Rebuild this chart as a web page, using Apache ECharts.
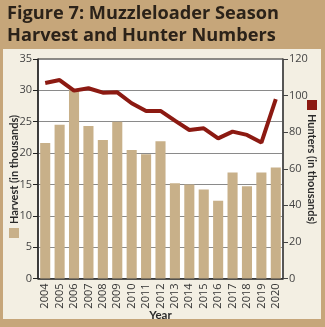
<!DOCTYPE html>
<html>
<head>
<meta charset="utf-8">
<script src="https://cdn.jsdelivr.net/npm/echarts@6/dist/echarts.min.js"></script>
<style>
  html, body { margin: 0; padding: 0; background: #c6a67a; }
  #chart { width: 325px; height: 327px; }
</style>
</head>
<body>
<div id="chart"></div>
<script>
// Muzzleloader season: harvest and hunters, in thousands
const years = ['2004', '2005', '2006', '2007', '2008', '2009', '2010', '2011', '2012',
               '2013', '2014', '2015', '2016', '2017', '2018', '2019', '2020'];
const harvest = [21.6, 24.5, 30.0, 24.3, 22.1, 25.0, 20.5, 19.8, 21.9,
                 15.2, 15.0, 14.2, 12.4, 16.9, 14.7, 16.9, 17.7];
const hunters = [106.9, 108.5, 102.7, 104.0, 101.6, 101.8, 95.8, 91.6, 91.6,
                 86.3, 81.2, 82.1, 76.6, 80.3, 78.5, 74.3, 98.0];

const titleLines = ['Figure 7: Muzzleloader Season', 'Harvest and Hunter Numbers'];
const harvestName = 'Harvest (in thousands)';
const huntersName = 'Hunters (in thousands)';
const xName = 'Year';

const FONT = '"Open Sans", "Noto Sans", sans-serif';
const NARROW = 'Lato, "Open Sans", sans-serif';
const BAR = '#c8b089';
const RED = '#8c1a12';
const INK = '#2b2219';

const chart = echarts.init(document.getElementById('chart'), null, { renderer: 'canvas' });

chart.setOption({
  backgroundColor: '#c6a67a',
  animation: false,
  textStyle: { fontFamily: FONT },
  graphic: [
    { type: 'rect', z: -10, shape: { x: 3, y: 49, width: 318, height: 270 },
      style: { fill: '#f3efe3' } },
    { type: 'text', left: 7, top: 3,
      style: { text: titleLines.join('\n'), font: 'bold 18.2px ' + FONT, fill: INK, lineHeight: 22 } },
    // left legend swatch + axis title
    { type: 'rect', shape: { x: 9, y: 228, width: 10, height: 10 }, style: { fill: BAR } },
    { type: 'text', x: 14, y: 169.5, rotation: Math.PI / 2,
      style: { text: harvestName, font: 'bold 11px ' + NARROW, fill: '#2a2a2a',
               align: 'center', verticalAlign: 'middle' } },
    // right legend swatch + axis title
    { type: 'rect', shape: { x: 307, y: 100, width: 10, height: 10 }, style: { fill: RED } },
    { type: 'text', x: 312, y: 169, rotation: -Math.PI / 2,
      style: { text: huntersName, font: 'bold 11px ' + NARROW, fill: '#2a2a2a',
               align: 'center', verticalAlign: 'middle' } }
  ],
  grid: {
    left: 38, right: 42, top: 59, bottom: 48.5,
    outerBoundsMode: 'none',
    show: true, backgroundColor: '#ffffff', borderColor: '#222', borderWidth: 1
  },
  xAxis: {
    type: 'category',
    data: years,
    name: xName,
    nameLocation: 'middle',
    nameGap: 31,
    nameMoveOverlap: false,
    nameTextStyle: { fontWeight: 'bold', fontSize: 11.5, color: '#2a2a2a', fontFamily: NARROW },
    axisLine: { lineStyle: { color: '#222', width: 1.5 } },
    axisTick: { show: false },
    axisLabel: { rotate: 90, fontSize: 11, color: '#333', margin: 5 }
  },
  yAxis: [
    {
      type: 'value', min: 0, max: 35, interval: 5,
      axisLine: { show: true, lineStyle: { color: '#222', width: 1.5 } },
      axisTick: { show: true, length: 5, lineStyle: { color: '#222' } },
      axisLabel: { fontSize: 11, color: '#444', margin: 6 },
      splitLine: { lineStyle: { color: '#8a8a8a', width: 1 } }
    },
    {
      type: 'value', min: 0, max: 120, interval: 20,
      axisLine: { show: true, lineStyle: { color: '#444', width: 1.5 } },
      axisTick: { show: true, length: 5, lineStyle: { color: '#444' } },
      axisLabel: { fontSize: 11, color: '#444', margin: 6 },
      splitLine: { show: false }
    }
  ],
  series: [
    {
      name: harvestName, type: 'bar', data: harvest, yAxisIndex: 0,
      barCategoryGap: '30%', itemStyle: { color: BAR }
    },
    {
      name: huntersName, type: 'line', data: hunters, yAxisIndex: 1,
      symbol: 'none', lineStyle: { color: RED, width: 4 }, z: 5
    }
  ]
});
</script>
</body>
</html>
